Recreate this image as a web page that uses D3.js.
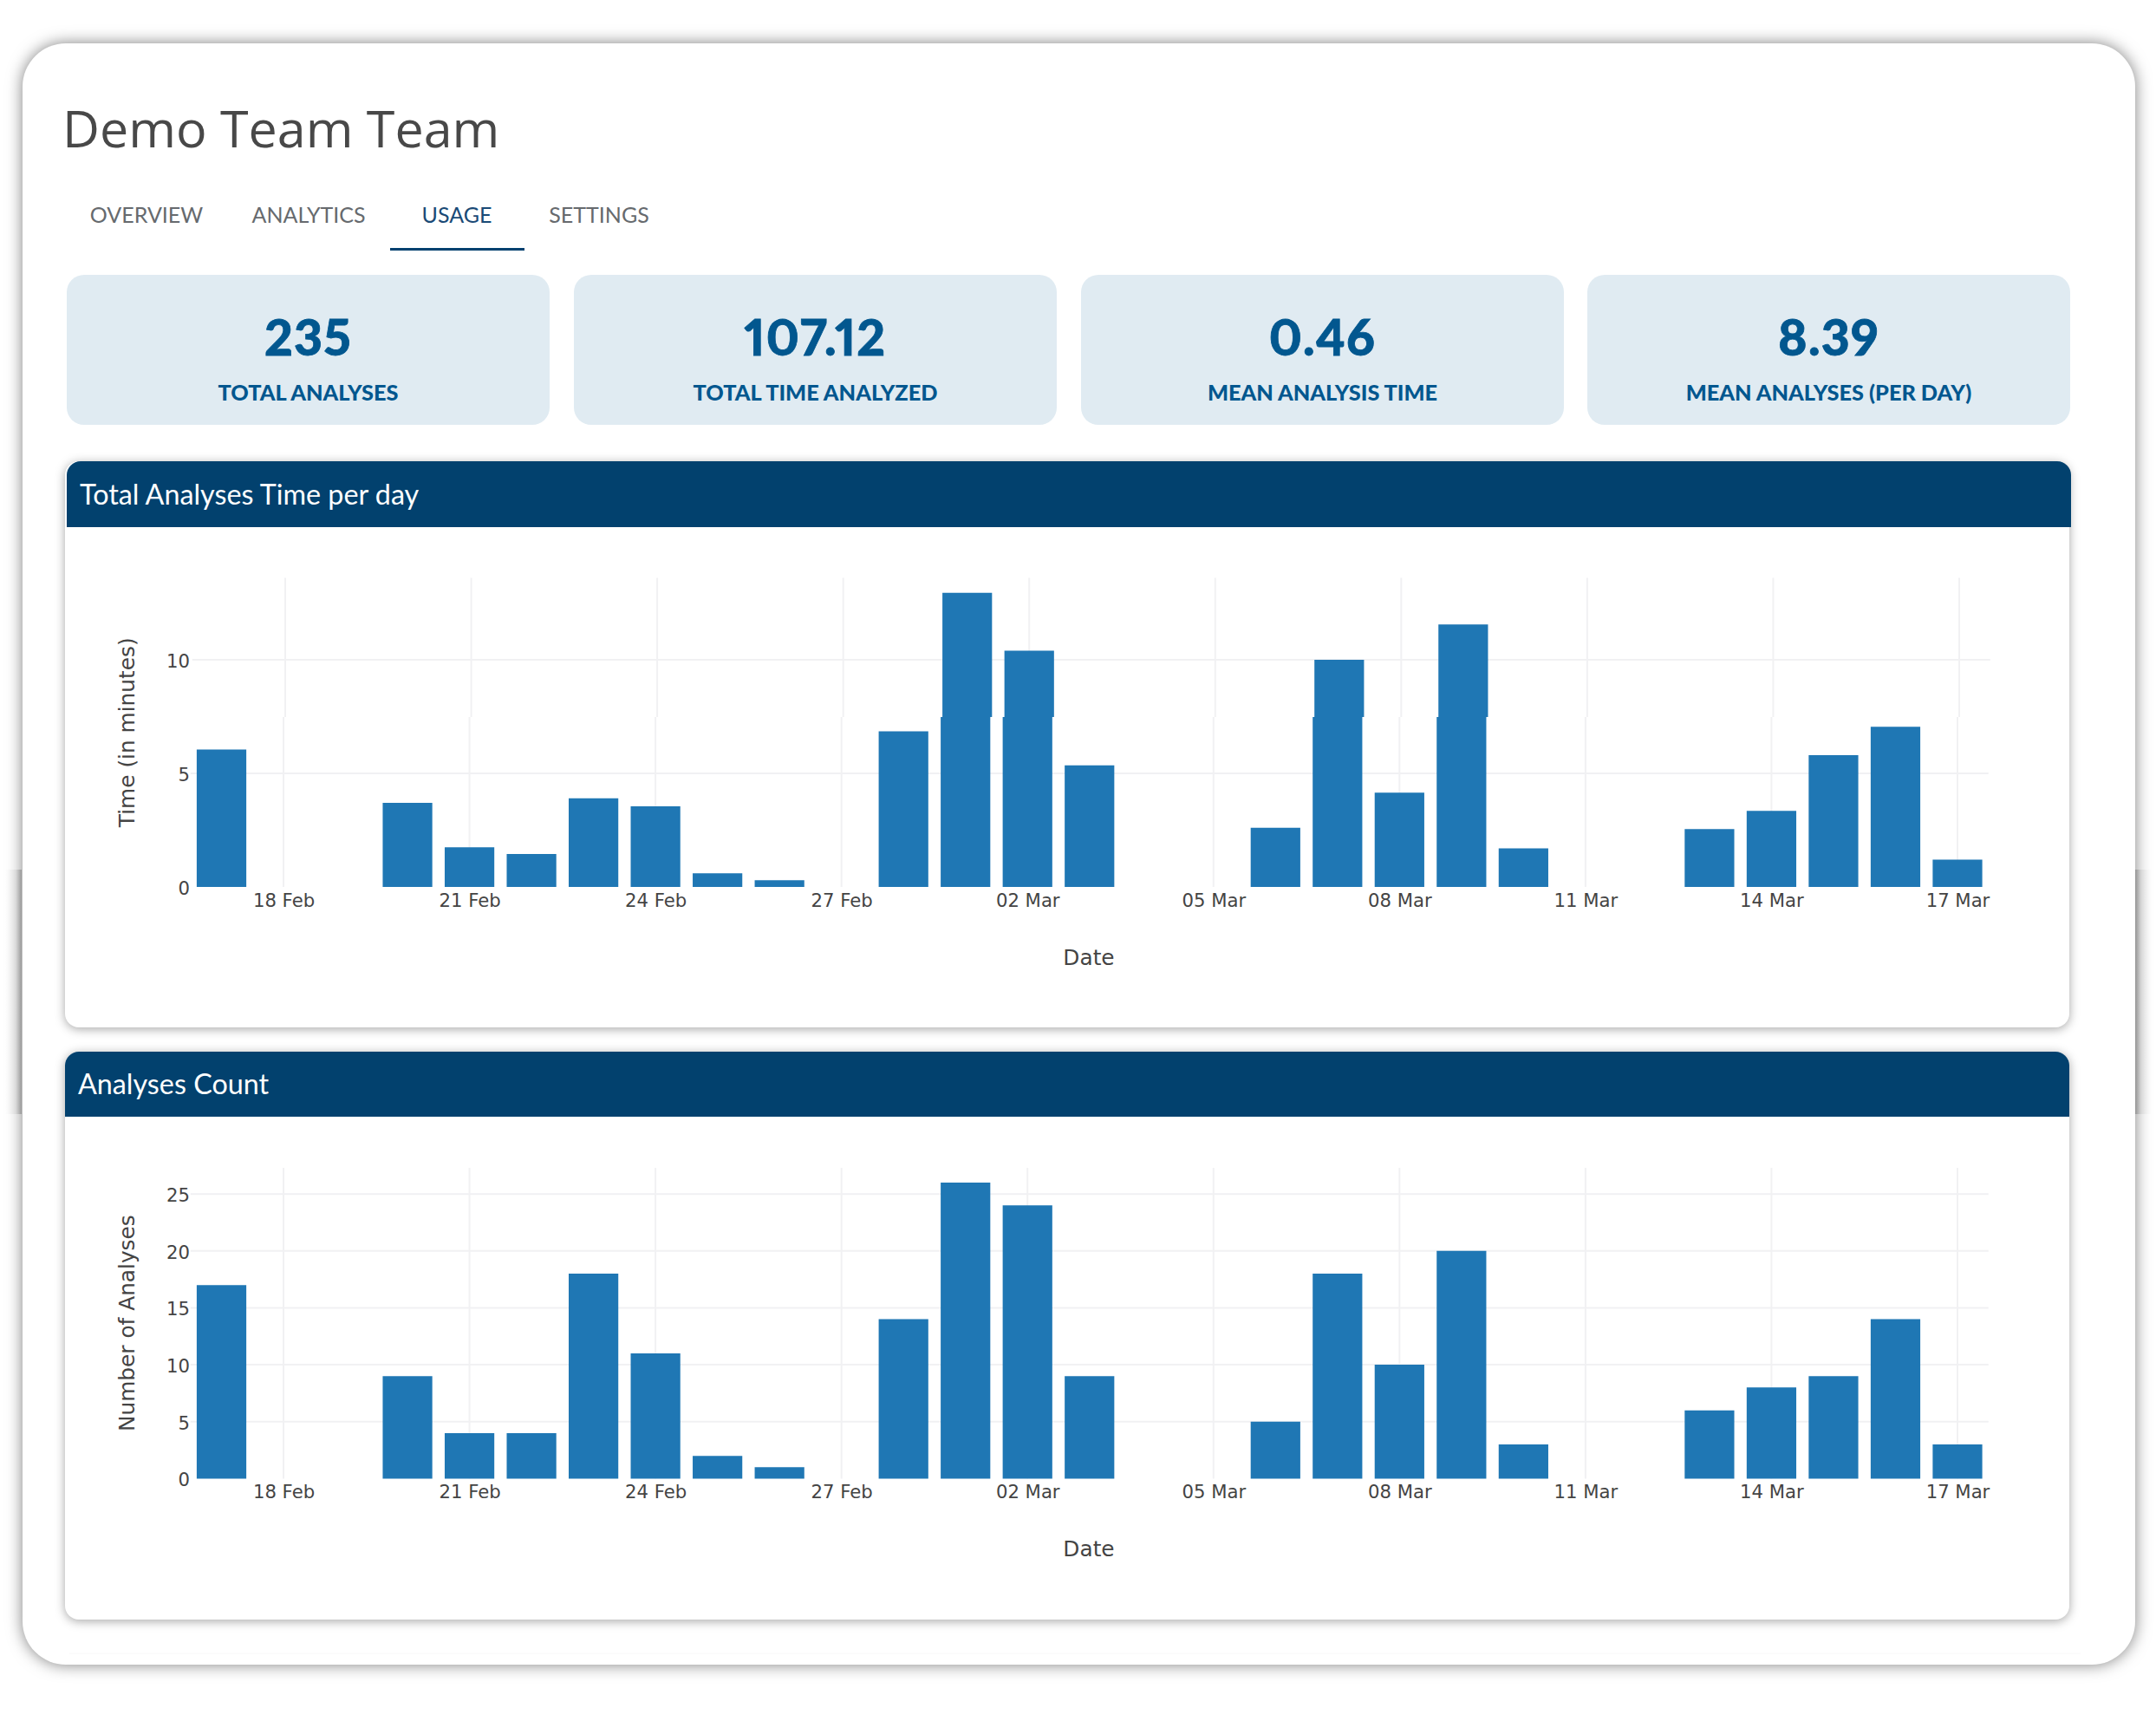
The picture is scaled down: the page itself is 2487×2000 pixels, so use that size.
<!DOCTYPE html>
<html>
<head>
<meta charset="utf-8">
<script src="https://cdn.jsdelivr.net/npm/d3@7"></script>
<style>
    html, body { margin: 0; padding: 0; background: #fff; }
    svg { display: block; }
    text { font-family: Lato, sans-serif; }
    .outer-card { filter: drop-shadow(0 0 9px rgba(0,0,0,.5)); }
    .panel-body { filter: drop-shadow(0 2px 6px rgba(0,0,0,.35)); }
    .tick text { font-family: "DejaVu Sans", sans-serif; font-size: 21.2px; fill: #444; }
    .axis-title { font-family: "DejaVu Sans", sans-serif; font-size: 24.8px; fill: #444; }
</style>
</head>
<body>
<div id="chart"></div>
<script>
var days = ["2023-02-17", "2023-02-20", "2023-02-21", "2023-02-22", "2023-02-23", "2023-02-24", "2023-02-25", "2023-02-26",
    "2023-02-28", "2023-03-01", "2023-03-02", "2023-03-03", "2023-03-06", "2023-03-07", "2023-03-08", "2023-03-09", "2023-03-10",
    "2023-03-13", "2023-03-14", "2023-03-15", "2023-03-16", "2023-03-17"];
var timeValues = [6.05, 3.7, 1.75, 1.45, 3.9, 3.55, 0.6, 0.3, 6.85, 12.95, 10.4, 5.35, 2.6, 10, 4.15, 11.55, 1.7, 2.55, 3.35, 5.8, 7.05, 1.2];
var countValues = [17, 9, 4, 4, 18, 11, 2, 1, 14, 26, 24, 9, 5, 18, 10, 20, 3, 6, 8, 9, 14, 3];
var dateTicks = ["2023-02-18", "2023-02-21", "2023-02-24", "2023-02-27", "2023-03-02", "2023-03-05", "2023-03-08", "2023-03-11", "2023-03-14", "2023-03-17"];
var dateRange = ["2023-02-16T12:00", "2023-03-17T12:00"];
var timeTicks = [0, 5, 10];
var countTicks = [0, 5, 10, 15, 20, 25];
var tabNames = ["OVERVIEW", "ANALYTICS", "USAGE", "SETTINGS"];
var statValues = ["235", "107.12", "0.46", "8.39"];
var statLabels = ["TOTAL ANALYSES", "TOTAL TIME ANALYZED", "MEAN ANALYSIS TIME", "MEAN ANALYSES (PER DAY)"];

const parseDay = d3.utcParse("%Y-%m-%d");
const parseHour = d3.utcParse("%Y-%m-%dT%H:%M");

const svg = d3.select("#chart").append("svg")
    .attr("width", 2487)
    .attr("height", 2000);

/* side glow of the screenshot */
const defs = svg.append("defs");
[["glowLeft", 1, 0], ["glowRight", 0, 1]].forEach(function(g){
    var grad = defs.append("linearGradient").attr("id", g[0]).attr("x1", g[1]).attr("x2", g[2]).attr("y1", 0).attr("y2", 0);
    grad.append("stop").attr("offset", 0).attr("stop-color", "#000").attr("stop-opacity", 0.22);
    grad.append("stop").attr("offset", 0.35).attr("stop-color", "#000").attr("stop-opacity", 0.06);
    grad.append("stop").attr("offset", 1).attr("stop-color", "#000").attr("stop-opacity", 0);
});

/* outer card */
svg.append("rect")
    .attr("class", "outer-card")
    .attr("x", 26).attr("y", 50)
    .attr("width", 2437).attr("height", 1870)
    .attr("rx", 50)
    .attr("fill", "#fff");

svg.append("rect").attr("x", 6).attr("y", 1003).attr("width", 19).attr("height", 282).attr("fill", "url(#glowLeft)");
svg.append("rect").attr("x", 2463).attr("y", 1003).attr("width", 19).attr("height", 282).attr("fill", "url(#glowRight)");
svg.append("line").attr("x1", 80).attr("x2", 2400).attr("y1", 1907).attr("y2", 1907).attr("stroke", "#f8f8f8");

/* title and tabs */
svg.append("text")
    .attr("x", 72).attr("y", 170)
    .style("font-family", "'Open Sans'")
    .style("font-size", "59.2px")
    .attr("fill", "#484848")
    .text("Demo Team Team");

const tabX = [169, 356, 527, 691];
svg.selectAll(".tab").data(tabNames).enter().append("text")
    .attr("class", "tab")
    .attr("x", function(d, i){ return tabX[i] })
    .attr("y", 257)
    .attr("text-anchor", "middle")
    .style("font-size", "25px")
    .attr("fill", function(d){ return d === "USAGE" ? "#1a4a76" : "#666a6e" })
    .text(function(d){ return d });

svg.append("rect").attr("x", 450).attr("y", 286).attr("width", 155).attr("height", 3).attr("fill", "#02406f");

/* stat cards */
const cardX = [77, 662, 1247, 1831];
const cards = svg.selectAll(".stat").data(statValues).enter().append("g")
    .attr("class", "stat")
    .attr("transform", function(d, i){ return "translate(" + cardX[i] + ",317)" });

cards.append("rect")
    .attr("width", 557).attr("height", 173)
    .attr("rx", 20)
    .attr("fill", "#e0ebf2");

cards.append("text")
    .attr("x", 278.5).attr("y", 93)
    .attr("text-anchor", "middle")
    .style("font-size", "57px")
    .style("font-weight", 900)
    .style("font-variant-numeric", "proportional-nums")
    .style("letter-spacing", "1.2px")
    .attr("fill", "#02578f")
    .attr("stroke", "#02578f")
    .attr("stroke-width", 0.8)
    .text(function(d){ return d });

cards.append("text")
    .attr("x", 278.5).attr("y", 145)
    .attr("text-anchor", "middle")
    .style("font-size", "25.3px")
    .style("font-weight", 900)
    .attr("fill", "#02578f")
    .text(function(d, i){ return statLabels[i] });

/* panels */
drawPanel({ top: 532, bottom: 1185, headerBottom: 608, x: 75, headerX: 77, title: "Total Analyses Time per day", titleX: 92 });
drawPanel({ top: 1213, bottom: 1868, headerBottom: 1288, x: 75, headerX: 75, title: "Analyses Count", titleX: 90 });

drawBarChart({ values: timeValues, ticks: timeTicks, yTop: 13.6, plotTop: 666.6, plotBottom: 1023, label: "Time (in minutes)", seam: 827, shift: 2 });
drawBarChart({ values: countValues, ticks: countTicks, yTop: 27.3, plotTop: 1347, plotBottom: 1705.4, label: "Number of Analyses", seam: 0, shift: 0 });

function drawPanel(p){
    svg.append("rect")
        .attr("class", "panel-body")
        .attr("x", p.x).attr("y", p.top)
        .attr("width", 2312).attr("height", p.bottom - p.top)
        .attr("rx", 16)
        .attr("fill", "#fff");

    var r = 16, x0 = p.headerX, x1 = p.headerX + 2312;
    var header = d3.path();
    header.moveTo(x0, p.headerBottom);
    header.lineTo(x0, p.top + r);
    header.arcTo(x0, p.top, x0 + r, p.top, r);
    header.lineTo(x1 - r, p.top);
    header.arcTo(x1, p.top, x1, p.top + r, r);
    header.lineTo(x1, p.headerBottom);
    header.closePath();

    svg.append("path").attr("d", header.toString()).attr("fill", "#02416e");

    svg.append("text")
        .attr("x", p.titleX).attr("y", p.headerBottom - 26)
        .style("font-size", "32.3px")
        .attr("fill", "#fff")
        .text(p.title);
}

function drawBarChart(c){
    var data = days.map(function(d, i){ return { day: parseDay(d), value: c.values[i] } });

    var x = d3.scaleUtc()
        .domain(dateRange.map(parseHour))
        .range([219.75, 2293.75]);

    var y = d3.scaleLinear()
        .domain([0, c.yTop])
        .range([c.plotBottom, c.plotTop]);

    var barWidth = (x(parseDay("2023-02-18")) - x(parseDay("2023-02-17"))) * 0.8;
    var g = svg.append("g");

    // the picture was stitched: everything above the seam sits a little to the right
    function above(py){ return py < c.seam ? c.shift : 0 }

    /* вертикальна сітка */
    g.selectAll(".vgrid").data(dateTicks).enter().append("path")
        .attr("class", "vgrid")
        .attr("d", function(d){
            var px = x(parseDay(d));
            if (c.plotTop >= c.seam) return "M" + px + "," + c.plotTop + "V" + c.plotBottom;
            return "M" + (px + c.shift) + "," + c.plotTop + "V" + c.seam + "M" + px + "," + c.seam + "V" + c.plotBottom;
        })
        .attr("fill", "none")
        .attr("stroke", "#f1f1f3")
        .attr("stroke-width", 2);

    /* горизонтальна сітка */
    g.selectAll(".hgrid").data(c.ticks.slice(1)).enter().append("line")
        .attr("class", "hgrid")
        .attr("x1", function(d){ return x.range()[0] + above(y(d)) })
        .attr("x2", function(d){ return x.range()[1] + above(y(d)) })
        .attr("y1", function(d){ return y(d) })
        .attr("y2", function(d){ return y(d) })
        .attr("stroke", "#f1f1f3")
        .attr("stroke-width", 2);

    /* барчики */
    g.selectAll(".bar").data(data).enter().append("path")
        .attr("class", "bar")
        .attr("d", function(d){
            var left = x(d.day) - barWidth / 2, right = left + barWidth, top = y(d.value), s = above(top);
            if (!s) return "M" + left + "," + y(0) + "V" + top + "H" + right + "V" + y(0) + "Z";
            return "M" + left + "," + y(0) + "V" + c.seam + "H" + (left + s) + "V" + top + "H" + (right + s) + "V" + c.seam + "H" + right + "V" + y(0) + "Z";
        })
        .attr("fill", "#1f77b4");

    /* осі */
    var xAxis = g.append("g")
        .attr("transform", "translate(0," + y(0) + ")")
        .call(d3.axisBottom(x).tickValues(dateTicks.map(parseDay)).tickFormat(d3.utcFormat("%d %b")).tickSize(0).tickPadding(8));
    xAxis.select(".domain").remove();

    var yAxis = g.append("g")
        .attr("transform", "translate(220,1.5)")
        .call(d3.axisLeft(y).tickValues(c.ticks).tickSize(0).tickPadding(1));
    yAxis.select(".domain").remove();

    g.append("text")
        .attr("class", "axis-title")
        .attr("x", 1256).attr("y", y(0) + 90)
        .attr("text-anchor", "middle")
        .text("Date");

    g.append("text")
        .attr("class", "axis-title")
        .attr("transform", "translate(155," + (c.plotTop + c.plotBottom) / 2 + ") rotate(-90)")
        .attr("text-anchor", "middle")
        .text(c.label);
}
</script>
</body>
</html>
